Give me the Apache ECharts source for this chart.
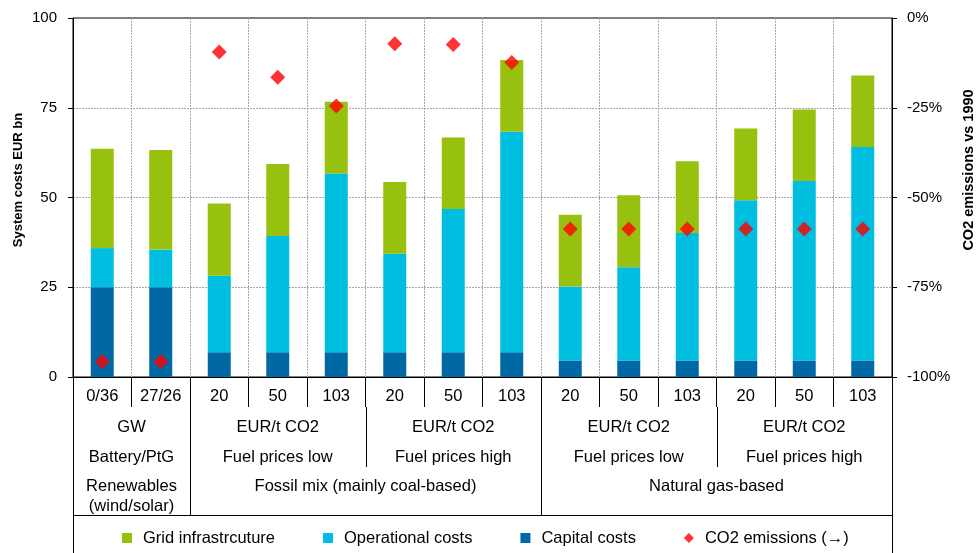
<!DOCTYPE html>
<html><head><meta charset="utf-8">
<script src="https://cdn.jsdelivr.net/npm/echarts@6/dist/echarts.min.js"></script>
<style>html,body{margin:0;padding:0;background:#fff}#c{width:977px;height:553px}</style>
</head><body><div id="c"></div>
<script>
// ---- data ----
const categories = ['0/36','27/26','20','50','103','20','50','103','20','50','103','20','50','103'];
const capitalCosts = [25, 25, 6.9, 6.9, 6.9, 6.9, 6.9, 6.9, 4.6, 4.6, 4.6, 4.6, 4.6, 4.6];
const operationalCosts = [10.9, 10.5, 21.3, 32.4, 49.8, 27.4, 39.9, 61.4, 20.6, 26.0, 35.5, 44.6, 50.0, 59.5];
const gridInfrastructure = [27.7, 27.7, 20.1, 20.0, 20.0, 20.0, 19.9, 20.0, 20.0, 20.0, 20.0, 20.0, 19.9, 19.9];
const co2Emissions = [-95.7, -95.7, -9.5, -16.5, -24.5, -7.2, -7.4, -12.4, -58.8, -58.8, -58.8, -58.8, -58.8, -58.8];
const level2Labels = ['GW', 'EUR/t CO2', 'EUR/t CO2', 'EUR/t CO2', 'EUR/t CO2'];
const level3Labels = ['Battery/PtG', 'Fuel prices low', 'Fuel prices high', 'Fuel prices low', 'Fuel prices high'];
const level23Spans = [2, 3, 3, 3, 3];
const level4Labels = ['Renewables\n(wind/solar)', 'Fossil mix (mainly coal-based)', 'Natural gas-based'];
const level4Spans = [2, 6, 6];
const leftTicks = [0, 25, 50, 75, 100];
const rightTicks = [-100, -75, -50, -25, 0];
const seriesNames = ['Grid infrastrcuture', 'Operational costs', 'Capital costs', 'CO2 emissions (\u2192)'];
const leftTitle = 'System costs EUR bn';
const rightTitle = 'CO2 emissions vs 1990';

// ---- style ----
const FONT = "'Liberation Sans', Arial, sans-serif";
const C_GRID = '#97C10E', C_OP = '#00BEE0', C_CAP = '#0068A2', C_RED = '#FF0000';
const GRIDLINE = {show: true, showMinLine: false, showMaxLine: false, lineStyle: {color: '#A8A8A8', type: [2, 1], width: 1}};

const chart = echarts.init(document.getElementById('c'), null, {renderer: 'canvas'});
chart.setOption({
  animation: false,
  textStyle: {fontFamily: FONT},
  grid: {left: 73, right: 85, top: 18, bottom: 176, show: true, borderColor: '#000', borderWidth: 1, outerBoundsMode: 'none'},
  legend: {
    left: 117, top: 524, itemWidth: 10, itemHeight: 10, itemGap: 48,
    textStyle: {fontSize: 16.5, fontFamily: FONT, color: '#000', padding: [0, 0, 0, 6], lineHeight: 18},
    data: [
      {name: seriesNames[0], icon: 'rect'},
      {name: seriesNames[1], icon: 'rect'},
      {name: seriesNames[2], icon: 'rect'},
      {name: seriesNames[3], icon: 'diamond'}
    ]
  },
  xAxis: {
    type: 'category', data: categories,
    axisLine: {lineStyle: {color: '#000', width: 1}},
    axisTick: {show: true, length: 30, alignWithLabel: false, interval: 0, lineStyle: {color: '#000'}},
    axisLabel: {interval: 0, margin: 11, fontSize: 16.5, lineHeight: 17, color: '#000', fontFamily: FONT},
    splitLine: Object.assign({interval: 0}, GRIDLINE)
  },
  yAxis: [
    {
      type: 'value', min: leftTicks[0], max: leftTicks[leftTicks.length - 1], interval: 25,
      axisLine: {show: true, lineStyle: {color: '#000'}},
      axisTick: {show: true, length: 5, lineStyle: {color: '#000'}},
      axisLabel: {margin: 16, fontSize: 15, color: '#000', fontFamily: FONT},
      splitLine: GRIDLINE
    },
    {
      type: 'value', position: 'right', min: rightTicks[0], max: rightTicks[rightTicks.length - 1], interval: 25,
      axisLine: {show: true, lineStyle: {color: '#000'}},
      axisTick: {show: true, length: 5, lineStyle: {color: '#000'}},
      axisLabel: {margin: 15, fontSize: 15, color: '#000', fontFamily: FONT, formatter: '{value}%'},
      splitLine: {show: false}
    }
  ],
  series: [
    {name: seriesNames[2], type: 'bar', stack: 'cost', data: capitalCosts, barWidth: 23, itemStyle: {color: C_CAP}},
    {name: seriesNames[1], type: 'bar', stack: 'cost', data: operationalCosts, barWidth: 23, itemStyle: {color: C_OP}},
    {name: seriesNames[0], type: 'bar', stack: 'cost', data: gridInfrastructure, barWidth: 23, itemStyle: {color: C_GRID}},
    {name: seriesNames[3], type: 'scatter', yAxisIndex: 1, data: co2Emissions, symbol: 'diamond', symbolSize: 15, itemStyle: {color: C_RED}, z: 5}
  ]
});

// ---- category table below the axis, positioned through the axis scale ----
const px = i => chart.convertToPixel({xAxisIndex: 0}, i);
const half = (px(1) - px(0)) / 2;
const bx = b => (b < categories.length ? px(b) - half : px(categories.length - 1) + half);
const yAxis0 = chart.convertToPixel({yAxisIndex: 0}, 0);
const ROW1_BOTTOM = yAxis0 + 30, ROW2 = yAxis0 + 50.5, ROW3 = yAxis0 + 80.5, ROW23_BOTTOM = yAxis0 + 90;
const ROW4 = yAxis0 + 109.5, TABLE_BOTTOM = yAxis0 + 138, PAGE_BOTTOM = 553;
const crisp = v => Math.round(v) + 0.5;
const g = [];
const line = (x1, y1, x2, y2) => g.push({type: 'line', silent: true, shape: {x1: x1, y1: y1, x2: x2, y2: y2}, style: {stroke: '#000', lineWidth: 1}});
const text = (t, x, y, extra) => g.push({type: 'text', silent: true, x: x, y: y, style: Object.assign({text: t, fontSize: 16.5, fontFamily: FONT, fill: '#000', align: 'center', verticalAlign: 'middle', lineHeight: 19.5}, extra || {})});

// outer verticals
line(crisp(bx(0)), yAxis0, crisp(bx(0)), PAGE_BOTTOM);
line(crisp(bx(categories.length)), yAxis0, crisp(bx(categories.length)), PAGE_BOTTOM);
line(crisp(bx(0)), crisp(TABLE_BOTTOM), crisp(bx(categories.length)), crisp(TABLE_BOTTOM));

// level 4 groups
let start = 0;
const l4Bounds = new Set();
level4Labels.forEach((lab, k) => {
  const end = start + level4Spans[k];
  const cx = (bx(start) + bx(end)) / 2;
  if (lab.indexOf('\n') >= 0) text(lab, cx, ROW4 + 9.75);
  else text(lab, cx, ROW4);
  if (end < categories.length) { line(crisp(bx(end)), yAxis0, crisp(bx(end)), TABLE_BOTTOM); l4Bounds.add(end); }
  start = end;
});
// levels 2 & 3
start = 0;
level2Labels.forEach((lab, k) => {
  const end = start + level23Spans[k];
  const cx = (bx(start) + bx(end)) / 2;
  text(lab, cx, ROW2);
  text(level3Labels[k], cx, ROW3);
  if (end < categories.length && !l4Bounds.has(end)) line(crisp(bx(end)), ROW1_BOTTOM, crisp(bx(end)), ROW23_BOTTOM);
  start = end;
});

// axis titles
g.push({type: 'text', silent: true, x: 18, y: 180, rotation: Math.PI / 2, style: {text: leftTitle, fontSize: 13, fontWeight: 'bold', fontFamily: FONT, fill: '#000', align: 'center', verticalAlign: 'middle'}});
g.push({type: 'text', silent: true, x: 969, y: 170, rotation: Math.PI / 2, style: {text: rightTitle, fontSize: 14.5, fontWeight: 'bold', fontFamily: FONT, fill: '#000', align: 'center', verticalAlign: 'middle'}});

chart.setOption({graphic: g});
</script>
</body></html>
